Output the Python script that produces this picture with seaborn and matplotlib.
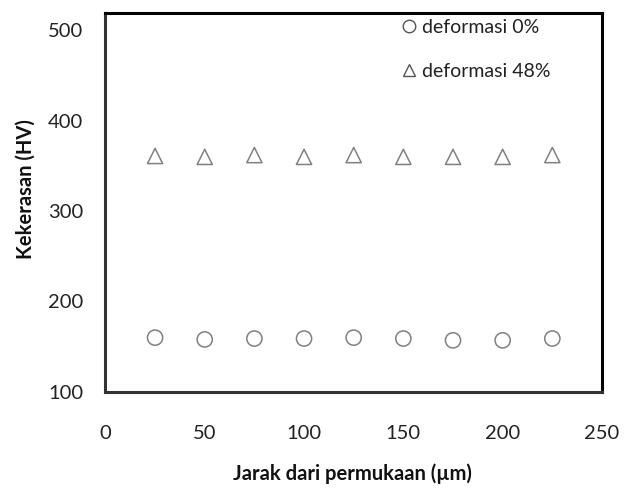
import matplotlib
matplotlib.use("Agg")
import matplotlib.pyplot as plt
import seaborn as sns
import pandas as pd
from matplotlib.lines import Line2D

# Distance from surface (µm)
jarak = [25, 50, 75, 100, 125, 150, 175, 200, 225]
# Hardness (HV) for each deformation level
deformasi_0 = [160, 158, 159, 159, 160, 159, 157, 157, 159]
deformasi_48 = [361, 360, 362, 360, 362, 360, 360, 360, 362]
series_labels = ["deformasi 0%", "deformasi 48%"]
x_ticks = [0, 50, 100, 150, 200, 250]
y_ticks = [100, 200, 300, 400, 500]

df = pd.DataFrame({
    "jarak": jarak * 2,
    "HV": deformasi_0 + deformasi_48,
    "seri": [series_labels[0]] * len(jarak) + [series_labels[1]] * len(jarak),
})

sns.set_style("white")
plt.rcParams["font.family"] = ["Lato", "DejaVu Sans"]

fig, ax = plt.subplots(figsize=(6.35, 4.88), dpi=100)
fig.subplots_adjust(left=0.166, right=0.948, bottom=0.197, top=0.973)

marker_map = {series_labels[0]: "o", series_labels[1]: "^"}
edge = "#808080"
for label in series_labels:
    sub = df[df["seri"] == label]
    sns.scatterplot(data=sub, x="jarak", y="HV", marker=marker_map[label],
                    s=120, facecolors="none", edgecolor=edge, linewidth=1.1,
                    ax=ax, legend=False)

ax.set_xlim(0, 250)
ax.set_ylim(100, 519)
ax.set_xticks(x_ticks)
ax.set_yticks(y_ticks)
ax.tick_params(axis="both", length=0, labelsize=14.5, colors="#222222")
ax.tick_params(axis="y", pad=16)
ax.tick_params(axis="x", pad=24)

for side in ["left", "bottom"]:
    ax.spines[side].set_color("#333333")
    ax.spines[side].set_linewidth(2.2)
for side in ["top", "right"]:
    ax.spines[side].set_color("black")
    ax.spines[side].set_linewidth(2.2)
    ax.spines[side].set_visible(True)

ax.set_xlabel("Jarak dari permukaan (µm)", fontsize=14.5, fontweight="bold", color="#111111")
ax.set_ylabel("Kekerasan (HV)", fontsize=14.5, fontweight="bold", color="#111111")
ax.xaxis.set_label_coords(0.497, -0.19)
ax.yaxis.set_label_coords(-0.141, 0.535)

handles = [Line2D([], [], marker=marker_map[l], linestyle="none", markersize=9,
                  markerfacecolor="none", markeredgecolor="#555555", markeredgewidth=1.0)
           for l in series_labels]
ax.legend(handles, series_labels, loc="upper left", frameon=False, fontsize=14,
          labelspacing=1.4, handletextpad=0.25, handlelength=0.8,
          labelcolor="#222222",
          bbox_to_anchor=(0.581, 1.006), borderaxespad=0)

fig.savefig("out.png", dpi=100)
